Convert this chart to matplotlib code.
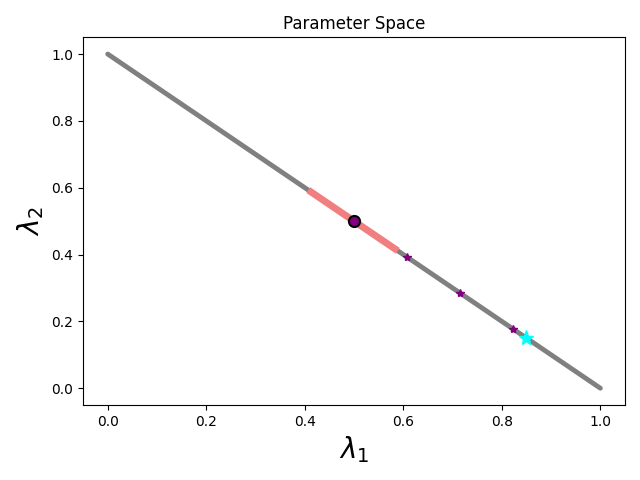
import matplotlib
matplotlib.use("Agg")
import matplotlib.pyplot as plt
import numpy as np

line_x = [0.0, 1.0]
line_y = [1.0, 0.0]
seg_x = [0.413, 0.583]
seg_y = [0.587, 0.417]
center = (0.5, 0.5)
stars_x = [0.607, 0.715, 0.822]
stars_y = [0.393, 0.285, 0.178]
cyan = (0.85, 0.15)

fig, ax = plt.subplots(figsize=(6.4, 4.8), dpi=100)
ax.plot(line_x, line_y, color="grey", lw=3.5, solid_capstyle="round")
ax.plot(seg_x, seg_y, color="lightcoral", lw=5)
ax.plot(stars_x, stars_y, linestyle="none", marker="*", color="purple", markersize=6)
ax.plot([center[0]], [center[1]], marker="o", color="purple", markeredgecolor="black", markersize=8, markeredgewidth=1.5)
ax.plot([center[0]], [center[1]], marker="*", color="purple", markersize=6)
ax.plot([cyan[0]], [cyan[1]], marker="*", color="cyan", markersize=11)
ax.set_title("Parameter Space")
ax.set_xlabel(r"$\lambda_1$", fontsize=20)
ax.set_ylabel(r"$\lambda_2$", fontsize=20)
fig.tight_layout()
fig.savefig("out.png")
